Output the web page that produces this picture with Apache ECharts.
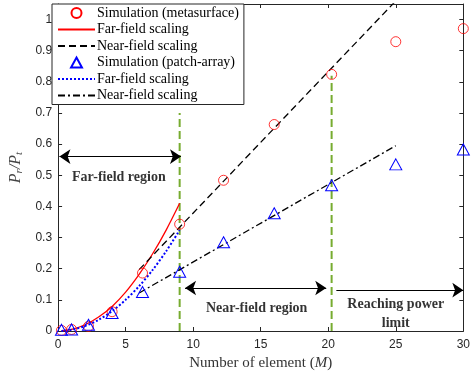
<!DOCTYPE html>
<html><head><meta charset="utf-8">
<script src="https://cdn.jsdelivr.net/npm/echarts@6/dist/echarts.min.js"></script>
<style>html,body{margin:0;padding:0;background:#fff}#c{width:473px;height:379px}</style>
</head><body><div id="c"></div>
<script>
// ---- data ----
const metaSim = [[0.25,0.002],[1,0.005],[2.25,0.015],[4,0.062],[6.25,0.186],[9,0.343],[12.25,0.484],[16,0.663],[20.25,0.824],[25,0.929],[30,0.971]];
const patchSim = [[0.25,0.004],[1,0.005],[2.25,0.02],[4,0.058],[6.25,0.125],[9,0.19],[12.25,0.285],[16,0.378],[20.25,0.468],[25,0.535],[30,0.583]];
const metaFar = [[0.25,0.0003],[1,0.005],[2,0.02],[3,0.045],[4,0.079],[5,0.125],[6,0.182],[7,0.248],[8,0.324],[9,0.41]];
const patchFar = [[0.25,0.0003],[1,0.004],[2,0.016],[3,0.036],[4,0.064],[5,0.1],[6,0.144],[7,0.196],[8,0.256],[9,0.324]];
const metaNear = [[6,0.197],[25,1.06]];
const patchNear = [[6,0.122],[25,0.595]];
const boundaryFar = [[9,0],[9,0.7]];
const boundaryNear = [[20.25,0],[20.25,0.82]];
const arrowLines = [
  {from:[0.1,0.56], to:[9.1,0.56], both:true},
  {from:[9.4,0.138], to:[19.85,0.138], both:true},
  {from:[20.6,0.131], to:[30,0.131], both:false}
];
const notes = [
  {at:[4.5,0.494], text:'Far-field region'},
  {at:[14.7,0.074], text:'Near-field region'},
  {at:[25,0.056], text:'Reaching power\nlimit'}
];
const legendKeys = ['simMeta','farMeta','nearMeta','simPatch','farPatch','nearPatch'];
const legendLabels = ['Simulation (metasurface)','Far-field scaling','Near-field scaling','Simulation (patch-array)','Far-field scaling','Near-field scaling'];

const SERIF = "'Liberation Serif','Times New Roman',serif";
const SANS = "'Liberation Sans',Arial,sans-serif";
const AX = '#262626';
const TRI = 'path://M6,0L12,11L0,11Z';

const chart = echarts.init(document.getElementById('c'), null, {renderer:'canvas'});
const axisCommon = {
  axisLine:{show:true,onZero:false,lineStyle:{color:AX,width:1}},
  axisTick:{show:true,inside:true,length:4,lineStyle:{color:AX}},
  splitLine:{show:false}
};
const hidden = {color:'rgba(0,0,0,0)',borderColor:'rgba(0,0,0,0)',borderWidth:0};
const option = {
  animation:false,
  backgroundColor:'#fff',
  grid:{left:53,right:4,top:4,bottom:48,containLabel:false},
  legend:{
    data:legendKeys.map(k=>k==='simPatch'?{name:k,icon:TRI}:(k==='simMeta'?{name:k}:{name:k,itemStyle:hidden})),
    formatter:n=>legendLabels[legendKeys.indexOf(n)],
    orient:'vertical',left:52,top:4,
    itemWidth:37,itemHeight:10,itemGap:2.5,symbolKeepAspect:true,
    padding:[2,5,2,5],
    borderColor:'#262626',borderWidth:1,backgroundColor:'#fff',
    textStyle:{fontFamily:SERIF,fontSize:14,lineHeight:14,color:'#000',padding:[0,0,0,-3]},
    selectedMode:false
  },
  xAxis:[
    Object.assign({type:'value',min:0,max:30,interval:5,position:'bottom',
      name:'{n|Number of element (}{i|M}{n|)}',nameLocation:'middle',nameGap:24,
      nameTextStyle:{rich:{n:{fontFamily:SERIF,fontSize:15,color:'#333'},i:{fontFamily:SERIF,fontSize:15,fontStyle:'italic',color:'#333'}}},
      axisLabel:{fontFamily:SANS,fontSize:12,color:AX,margin:8}},axisCommon),
    Object.assign({type:'value',min:0,max:30,interval:5,position:'top',axisLabel:{show:false}},axisCommon)
  ],
  yAxis:[
    Object.assign({type:'value',min:0,max:1.05,interval:0.1,position:'left',
      name:'{i|P}{s|r}{n|/}{i|P}{s|t}',nameLocation:'middle',nameGap:30,nameRotate:90,
      nameTextStyle:{rich:{
        i:{fontFamily:SERIF,fontSize:16,fontStyle:'italic',color:'#444'},
        n:{fontFamily:SERIF,fontSize:16,fontStyle:'italic',color:'#444'},
        s:{fontFamily:SERIF,fontSize:11,fontStyle:'italic',color:'#444',verticalAlign:'bottom',padding:[6,0,0,0]}}},
      axisLabel:{fontFamily:SANS,fontSize:12,color:AX,margin:6,showMaxLabel:false}},axisCommon),
    Object.assign({type:'value',min:0,max:1.05,interval:0.1,position:'right',axisLabel:{show:false}},axisCommon)
  ],
  series:[
    {name:'boundary1',type:'line',data:boundaryFar,symbol:'none',silent:true,lineStyle:{color:'#77ac30',width:2,type:[8,4]},z:1},
    {name:'boundary2',type:'line',data:boundaryNear,symbol:'none',silent:true,lineStyle:{color:'#77ac30',width:2,type:[8,4]},z:1},
    {name:'farMeta',type:'line',data:metaFar,symbol:'none',smooth:0.3,lineStyle:{color:'#ff0000',width:1.3,type:'solid'},itemStyle:{color:'#ff0000'},z:3},
    {name:'nearMeta',type:'line',data:metaNear,symbol:'none',lineStyle:{color:'#000',width:1.3,type:[7,4]},itemStyle:{color:'#000'},z:3},
    {name:'farPatch',type:'line',data:patchFar,symbol:'none',smooth:0.3,lineStyle:{color:'#0000ff',width:2,type:[2,2]},itemStyle:{color:'#0000ff'},z:3},
    {name:'nearPatch',type:'line',data:patchNear,symbol:'none',lineStyle:{color:'#000',width:1.3,type:[7,3,2,3]},itemStyle:{color:'#000'},z:3},
    {name:'simMeta',type:'scatter',data:metaSim,symbol:'circle',symbolSize:10,itemStyle:{color:'rgba(0,0,0,0)',borderColor:'#ff0000',borderWidth:0.8,opacity:1},z:4},
    {name:'simPatch',type:'scatter',data:patchSim,symbol:'triangle',symbolSize:[12,11],itemStyle:{color:'rgba(0,0,0,0)',borderColor:'#0000ff',borderWidth:1,opacity:1},z:4},
    {name:'annot',type:'scatter',data:notes.map(n=>({value:n.at,label:{formatter:n.text}})),symbolSize:0,silent:true,
      label:{show:true,position:'inside',fontFamily:SERIF,fontSize:14,fontWeight:'bold',color:'#000',lineHeight:19,align:'center'},
      markLine:{silent:true,symbolSize:11,label:{show:false},lineStyle:{color:'#000',width:1.2,type:'solid'},
        data:arrowLines.map(a=>[{coord:a.from,symbol:a.both?'arrow':'none'},{coord:a.to,symbol:'arrow'}])},z:5}
  ]
};
chart.setOption(option);
</script></body></html>
